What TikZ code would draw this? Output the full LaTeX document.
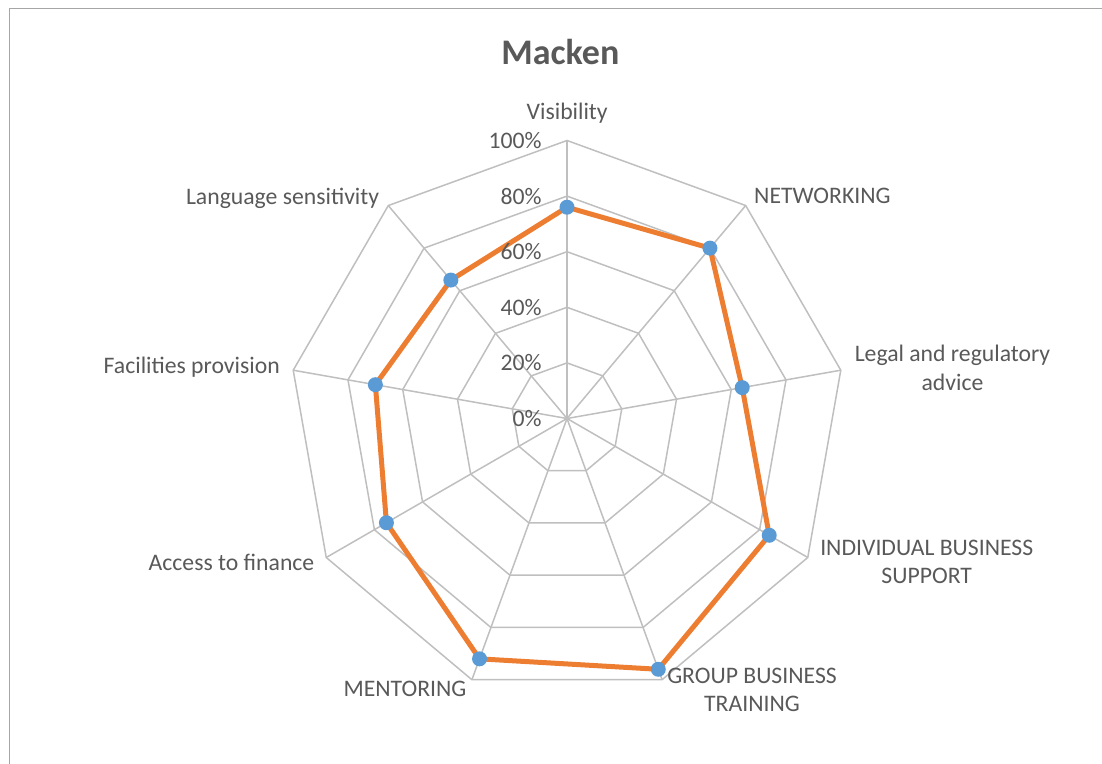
\documentclass[tikz,border=0pt]{standalone}
\usepackage{fontspec}
\setmainfont{Carlito}
\definecolor{labelgrey}{HTML}{595959}
\definecolor{gridgrey}{HTML}{BFBFBF}
\definecolor{framegrey}{HTML}{A6A6A6}
\definecolor{seriesorange}{HTML}{ED7D31}
\definecolor{markerblue}{HTML}{5B9BD5}
\begin{document}
\begin{tikzpicture}[x=1pt,y=1pt,
  axislabel/.style={text=labelgrey, font=\fontsize{23.7}{28.3}\selectfont, inner sep=0pt, align=center},
  ticklabel/.style={text=labelgrey, font=\fontsize{23.7}{28.3}\selectfont, inner sep=0pt, anchor=base east},
  titlelabel/.style={text=labelgrey, font=\fontsize{36}{43}\selectfont\bfseries, inner sep=0pt, anchor=base},
  gridline/.style={draw=gridgrey, line width=1.5pt, line join=miter},
  seriesline/.style={draw=seriesorange, line width=5pt, line join=round},
  datadot/.style={circle, fill=markerblue, minimum size=15pt, inner sep=0pt},
  framestyle/.style={draw=framegrey, line width=1.5pt}]
\useasboundingbox (0,0) rectangle (1102,763);
% frame of the chart area
\coordinate (fbl) at (9.5,-10);
\coordinate (ftl) at (9.5,754.7);
\coordinate (ftr) at (1115,754.7);
\draw[framestyle] (fbl) -- (ftl) -- (ftr);
% title
\node[titlelabel] (title) at (560.4,698.7) {Macken};
\begin{scope}[shift={(567,344.5)}]
  \coordinate (C) at (0,0);
  % grid polygons
  \foreach \r in {55.6,111.2,166.8,222.4,278}
    \draw[gridline] (90:\r) foreach \a in {50,10,-30,-70,-110,-150,-190,-230} { -- (\a:\r) } -- cycle;
  % spokes
  \coordinate (v1) at (90:278);
  \coordinate (v2) at (50:278);
  \coordinate (v3) at (10:278);
  \coordinate (v4) at (-30:278);
  \coordinate (v5) at (-70:278);
  \coordinate (v6) at (-110:278);
  \coordinate (v7) at (-150:278);
  \coordinate (v8) at (170:278);
  \coordinate (v9) at (130:278);
  \foreach \i in {1,...,9} \draw[gridline] (C) -- (v\i);
  % data points
  \coordinate (p1) at (90:{0.76*278});
  \coordinate (p2) at (50:{0.80*278});
  \coordinate (p3) at (10:{0.64*278});
  \coordinate (p4) at (-30:{0.84*278});
  \coordinate (p5) at (-70:{0.96*278});
  \coordinate (p6) at (-110:{0.92*278});
  \coordinate (p7) at (-150:{0.75*278});
  \coordinate (p8) at (170:{0.70*278});
  \coordinate (p9) at (130:{0.65*278});
  \draw[seriesline] (p1) -- (p2) -- (p3) -- (p4) -- (p5) -- (p6) -- (p7) -- (p8) -- (p9) -- cycle;
  \foreach \i in {1,...,9} \node[datadot] (m\i) at (p\i) {};
\end{scope}
% tick labels
\node[ticklabel] (t0) at (541.7,336.5) {0\%};
\node[ticklabel] (t20) at (541.7,392.1) {20\%};
\node[ticklabel] (t40) at (541.7,447.7) {40\%};
\node[ticklabel] (t60) at (541.7,503.3) {60\%};
\node[ticklabel] (t80) at (541.7,558.9) {80\%};
\node[ticklabel] (t100) at (541.7,614.5) {100\%};
% axis labels (multi-line nodes: base = baseline of the last line)
\node[axislabel, anchor=base] (lvis) at (567.2,643.7) {Visibility};
\node[axislabel, anchor=base west] (lnet) at (754,559) {NETWORKING};
\node[axislabel, anchor=base] (llegal) at (952.5,372.8) {Legal and regulatory\\advice};
\node[axislabel, anchor=base] (lind) at (926.7,179) {INDIVIDUAL BUSINESS\\SUPPORT};
\node[axislabel, anchor=base] (lgroup) at (752,51.7) {GROUP BUSINESS\\TRAINING};
\node[axislabel, anchor=base] (lment) at (405,66.3) {MENTORING};
\node[axislabel, anchor=base east] (lacc) at (314.5,193) {Access to finance};
\node[axislabel, anchor=base east] (lfac) at (280,389) {Facilities provision};
\node[axislabel, anchor=base east] (llang) at (379.3,558.3) {Language sensitivity};
\end{tikzpicture}
\end{document}
